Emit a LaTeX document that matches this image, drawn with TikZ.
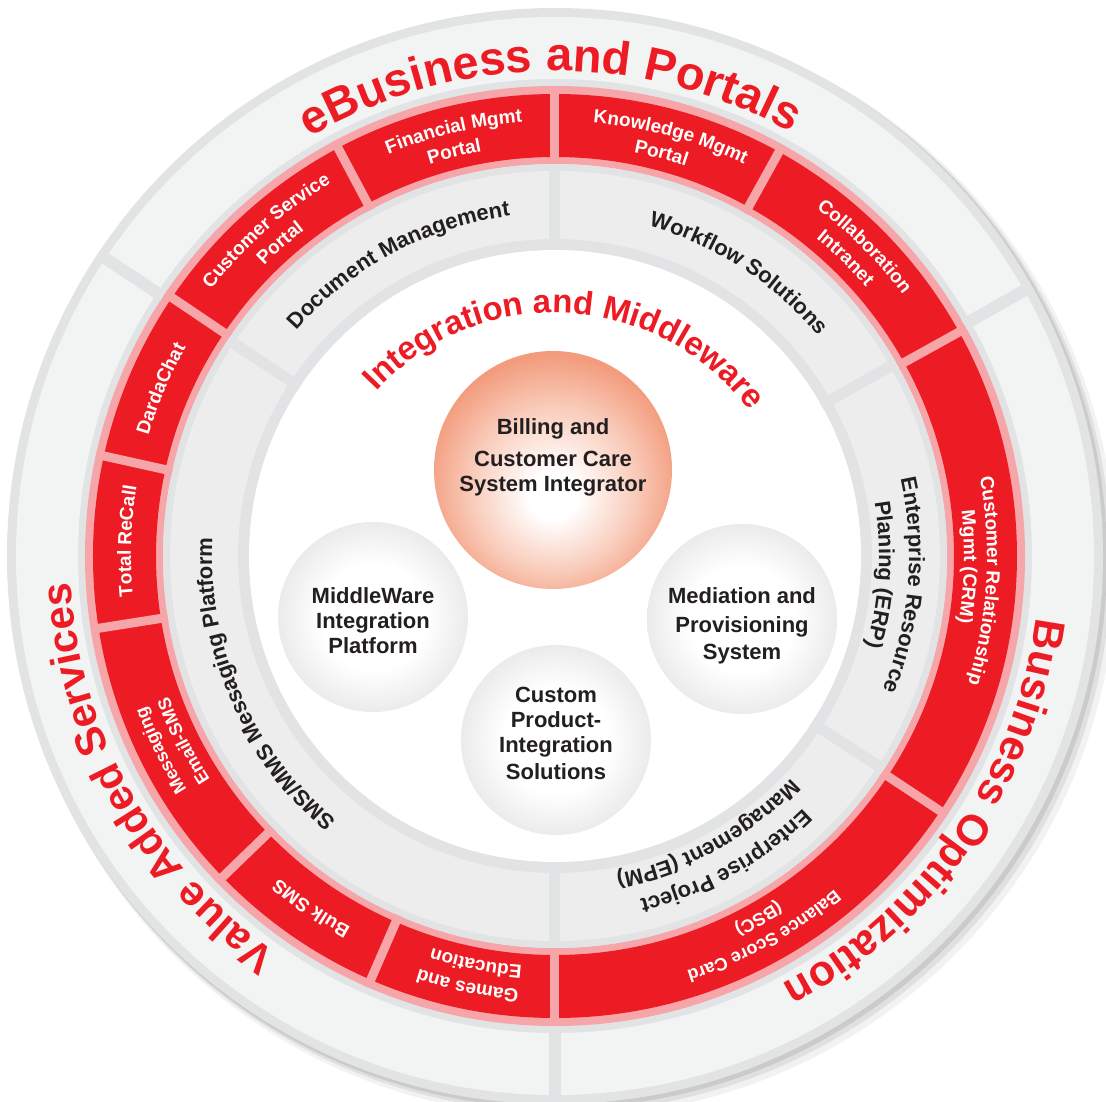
\documentclass[tikz,border=0pt]{standalone}
\usepackage{fontspec}
\setmainfont{Liberation Sans}
\usetikzlibrary{decorations.text}
\definecolor{darared}{HTML}{ED1C24}
\definecolor{darapink}{HTML}{F6A6A9}
\definecolor{ringline}{HTML}{E2E3E5}
\definecolor{ringfill}{HTML}{F2F3F3}
\definecolor{midfill}{HTML}{EDEDEE}
\definecolor{inkblack}{HTML}{231F20}
\definecolor{peach}{HTML}{F39B7C}
\definecolor{peachmid}{HTML}{F9CDBC}
\definecolor{bubblegray}{HTML}{EBEBEB}
\pgfdeclareradialshading{peachball}{\pgfpoint{0bp}{-6bp}}{color(0bp)=(white); color(5bp)=(white); color(17bp)=(peachmid); color(27bp)=(peach); color(50bp)=(peach)}
\pgfdeclareradialshading{grayball}{\pgfpoint{0bp}{0bp}}{color(0bp)=(white); color(14bp)=(white); color(25bp)=(bubblegray); color(50bp)=(bubblegray)}
\newcommand\headfont{\fontsize{47}{47}\selectfont\bfseries\color{darared}}
\newcommand\optfont{\fontsize{43}{43}\selectfont\bfseries\color{darared}}
\newcommand\vasfont{\fontsize{42}{42}\selectfont\bfseries\color{darared}}
\newcommand\intfont{\fontsize{33}{33}\selectfont\bfseries\color{darared}}
\newcommand\segfont{\fontsize{19}{19}\selectfont\bfseries\color{white}}
\newcommand\smallsegfont{\fontsize{18}{18}\selectfont\bfseries\color{white}}
\newcommand\midfont{\fontsize{22}{22}\selectfont\bfseries\color{inkblack}}
\newcommand\bubblefont{\fontsize{22}{25}\selectfont\bfseries}
\begin{document}
\begin{tikzpicture}[x=1pt, y=1pt,
outgap/.style={draw=ringline, line width=12pt},
redgap/.style={draw=darapink, line width=9pt},
midgap/.style={draw=ringline, line width=11pt},
arclabel/.style={decorate, decoration={text along path, text align=center}},
bubble/.style={circle, minimum size=190pt, inner sep=0pt, shade, shading=grayball},
bubbletext/.style={align=center, font=\bubblefont, text=inkblack}
]
\fill[white] (-555,-545) rectangle (551,556);
\useasboundingbox (-555,-545) rectangle (551,556);

\fill[black, opacity=.05] (9,-9) circle[radius=552];
\fill[black, opacity=.07] (6,-6) circle[radius=550];
\fill[black, opacity=.09] (3,-3) circle[radius=549];
\fill[ringline] (0,0) circle[radius=548];
\fill[ringfill, even odd rule] (0,0) circle[radius=539] circle[radius=477];
\fill[darapink, even odd rule] (0,0) circle[radius=470] circle[radius=392];
\fill[darared, even odd rule] (0,0) circle[radius=462] circle[radius=399];
\fill[ringline, even odd rule] (0,0) circle[radius=392] circle[radius=306];
\fill[midfill, even odd rule] (0,0) circle[radius=385] circle[radius=317];
\fill[white] (0,0) circle[radius=306];

\path[outgap] (29.5:470) -- (29.5:548);
\path[outgap] (146.5:470) -- (146.5:548);
\path[outgap] (270:470) -- (270:548);

\path[redgap] (29:392) -- (29:470);
\path[redgap] (61:392) -- (61:470);
\path[redgap] (90:392) -- (90:470);
\path[redgap] (118:392) -- (118:470);
\path[redgap] (146:392) -- (146:470);
\path[redgap] (167.5:392) -- (167.5:470);
\path[redgap] (189:392) -- (189:470);
\path[redgap] (224:392) -- (224:470);
\path[redgap] (246.5:392) -- (246.5:470);
\path[redgap] (270:392) -- (270:470);
\path[redgap] (326.5:392) -- (326.5:470);

\path[midgap] (29.5:306) -- (29.5:392);
\path[midgap] (90:306) -- (90:392);
\path[midgap] (146.5:306) -- (146.5:392);
\path[midgap] (270:306) -- (270:392);
\path[midgap] (327:306) -- (327:392);

\path[arclabel, decoration={text={|\headfont|eBusiness and Portals}}] (150.6:485) arc[start angle=150.6, end angle=30.6, radius=485];
\path[arclabel, decoration={text={|\optfont|Business Optimization}}] (25.3:485) arc[start angle=25.3, end angle=-94.7, radius=485];
\path[arclabel, decoration={text={|\vasfont|Value Added Services}}] (269:485) arc[start angle=269, end angle=149, radius=485];

\path[arclabel, decoration={text={|\segfont|Knowledge Mgmt}}] (134.6:435) arc[start angle=134.6, end angle=14.6, radius=435];
\path[arclabel, decoration={text={|\segfont|Portal}}] (135.2:411) arc[start angle=135.2, end angle=15.2, radius=411];
\path[arclabel, decoration={text={|\segfont|Financial Mgmt}}] (163.4:435) arc[start angle=163.4, end angle=43.4, radius=435];
\path[arclabel, decoration={text={|\segfont|Portal}}] (164:411) arc[start angle=164, end angle=44, radius=411];
\path[arclabel, decoration={text={|\segfont|Customer Service}}] (191.6:435) arc[start angle=191.6, end angle=71.6, radius=435];
\path[arclabel, decoration={text={|\segfont|Portal}}] (191.3:411) arc[start angle=191.3, end angle=71.3, radius=411];
\path[arclabel, decoration={text={|\segfont|DardaChat}}] (217:424) arc[start angle=217, end angle=97, radius=424];
\path[arclabel, decoration={text={|\segfont|Total ReCall}}] (238:424) arc[start angle=238, end angle=118, radius=424];
\path[arclabel, decoration={text={|\smallsegfont|Messaging}}] (266.3:436) arc[start angle=266.3, end angle=146.3, radius=436];
\path[arclabel, decoration={text={|\smallsegfont|Email-SMS}}] (266.5:411) arc[start angle=266.5, end angle=146.5, radius=411];
\path[arclabel, decoration={text={|\segfont|Bulk SMS}}] (295.3:424) arc[start angle=295.3, end angle=175.3, radius=424];
\path[arclabel, decoration={text={|\segfont|Games and}}] (318.5:435) arc[start angle=318.5, end angle=198.5, radius=435];
\path[arclabel, decoration={text={|\segfont|Education}}] (319:411) arc[start angle=319, end angle=199, radius=411];
\path[arclabel, decoration={text={|\smallsegfont|Balance Score Card}}] (-1.2:435) arc[start angle=-1.2, end angle=-121.2, radius=435];
\path[arclabel, decoration={text={|\smallsegfont|(BSC)}}] (-0.7:411) arc[start angle=-0.7, end angle=-120.7, radius=411];
\path[arclabel, decoration={text={|\segfont|Customer Relationship}}] (56.7:432) arc[start angle=56.7, end angle=-63.3, radius=432];
\path[arclabel, decoration={text={|\segfont|Mgmt (CRM)}}] (58.5:409) arc[start angle=58.5, end angle=-61.5, radius=409];
\path[arclabel, decoration={text={|\segfont|Collaboration}}] (105:435) arc[start angle=105, end angle=-15, radius=435];
\path[arclabel, decoration={text={|\segfont|Intranet}}] (105.7:411) arc[start angle=105.7, end angle=-14.3, radius=411];

\path[arclabel, decoration={text={|\midfont|Document Management}}] (178.2:343) arc[start angle=178.2, end angle=58.2, radius=343];
\path[arclabel, decoration={text={|\midfont|Workflow Solutions}}] (117:343) arc[start angle=117, end angle=-3, radius=343];
\path[arclabel, decoration={text={|\midfont|Enterprise Resource}}] (55.2:354) arc[start angle=55.2, end angle=-64.8, radius=354];
\path[arclabel, decoration={text={|\midfont|Planing (ERP)}}] (56.7:324) arc[start angle=56.7, end angle=-63.3, radius=324];
\path[arclabel, decoration={text={|\midfont|Enterprise Project}}] (-0.8:354) arc[start angle=-0.8, end angle=-120.8, radius=354];
\path[arclabel, decoration={text={|\midfont|Management (EPM)}}] (-1.2:324) arc[start angle=-1.2, end angle=-121.2, radius=324];
\path[arclabel, decoration={text={|\midfont|SMS/MMS Messaging Platform}}] (263.7:343) arc[start angle=263.7, end angle=143.7, radius=343];

\path[arclabel, decoration={text={|\intfont|Integration and Middleware}}] (167:243) arc[start angle=167, end angle=7, radius=243];

\node[circle, minimum size=238pt, inner sep=0pt, shade, shading=peachball] (bill) at (-2,86) {};
\node[bubbletext, text depth=0pt] (billtxt) at ([yshift=15]bill.center) {Billing and\\[7pt]Customer Care\\System Integrator};
\node[bubble] (mw) at (-182,-61) {};
\node[bubbletext] (mwtxt) at ([yshift=-4]mw.center) {MiddleWare\\Integration\\Platform};
\node[bubble] (med) at (187,-63) {};
\node[bubbletext] (medtxt) at ([yshift=-7]med.center) {Mediation and\\[4pt]Provisioning\\[2pt]System};
\node[bubble] (cust) at (1,-184) {};
\node[bubbletext] (custtxt) at ([yshift=7]cust.center) {Custom\\Product-\\Integration\\[2pt]Solutions};
\end{tikzpicture}
\end{document}
